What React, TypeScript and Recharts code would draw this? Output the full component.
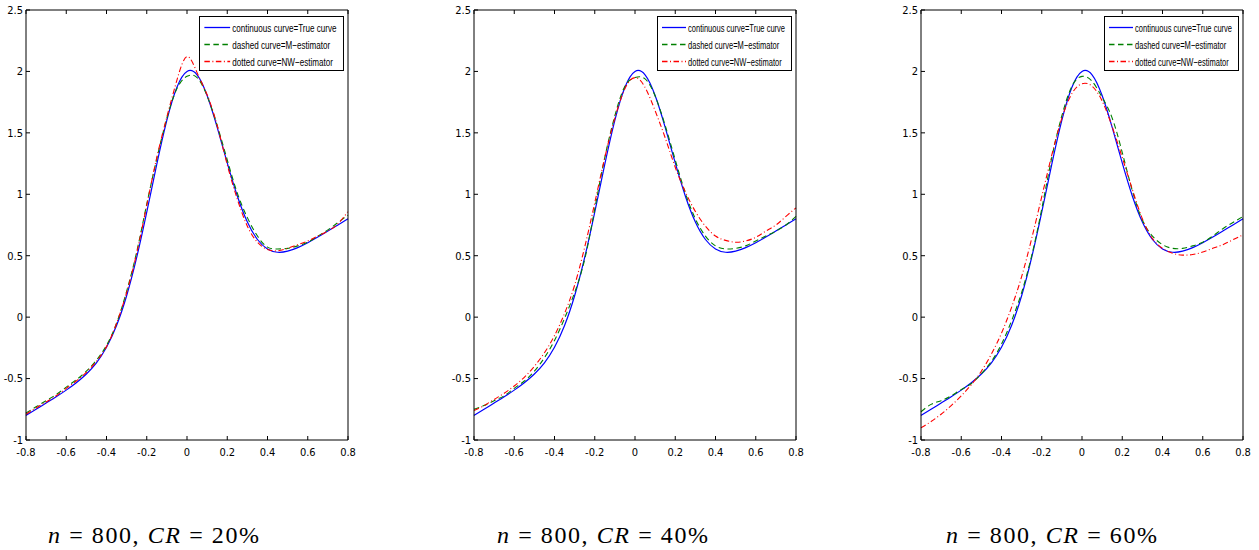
import React from "react";
import { LineChart, Line, XAxis, YAxis, Legend } from "recharts";

const xValues = [
  -0.8, -0.75, -0.7, -0.65, -0.6, -0.55, -0.5, -0.45, -0.4, -0.35, -0.3, -0.25, -0.2, -0.15, -0.1, -0.05,
  0, 0.05, 0.1, 0.15, 0.2, 0.25, 0.3, 0.35, 0.4, 0.45, 0.5, 0.55, 0.6, 0.65, 0.7, 0.75, 0.8,
];

const trueCurve = [
  -0.8, -0.75, -0.699, -0.648, -0.594, -0.534, -0.463, -0.372, -0.245, -0.068, 0.174, 0.486, 0.855, 1.245, 1.604, 1.872,
  2.0, 1.972, 1.804, 1.545, 1.255, 0.986, 0.774, 0.632, 0.555, 0.528, 0.537, 0.566, 0.606, 0.652, 0.701, 0.75, 0.8,
];

const mEst20 = [
  -0.78, -0.73, -0.68, -0.63, -0.57, -0.51, -0.44, -0.35, -0.23, -0.05, 0.21, 0.53, 0.92, 1.29, 1.62, 1.86,
  1.96, 1.95, 1.8, 1.56, 1.28, 1.01, 0.81, 0.66, 0.57, 0.555, 0.56, 0.58, 0.61, 0.66, 0.71, 0.77, 0.83,
];
const nwEst20 = [
  -0.79, -0.74, -0.69, -0.64, -0.58, -0.52, -0.45, -0.36, -0.24, -0.05, 0.2, 0.52, 0.91, 1.3, 1.63, 1.93,
  2.12, 1.99, 1.81, 1.56, 1.24, 0.96, 0.74, 0.61, 0.55, 0.54, 0.56, 0.59, 0.62, 0.66, 0.7, 0.76, 0.86,
];

const mEst40 = [
  -0.75, -0.72, -0.68, -0.64, -0.58, -0.52, -0.44, -0.33, -0.19, -0.01, 0.2, 0.47, 0.88, 1.3, 1.64, 1.88,
  1.95, 1.94, 1.8, 1.56, 1.28, 1.01, 0.8, 0.66, 0.58, 0.555, 0.56, 0.58, 0.62, 0.66, 0.7, 0.75, 0.82,
];
const nwEst40 = [
  -0.76, -0.72, -0.67, -0.62, -0.56, -0.49, -0.4, -0.29, -0.15, 0.03, 0.26, 0.57, 0.93, 1.3, 1.62, 1.86,
  1.95, 1.87, 1.68, 1.46, 1.22, 1.02, 0.86, 0.74, 0.66, 0.625, 0.61, 0.62, 0.65, 0.7, 0.75, 0.82, 0.89,
];

const mEst60 = [
  -0.77, -0.71, -0.68, -0.64, -0.59, -0.54, -0.46, -0.36, -0.22, -0.03, 0.2, 0.5, 0.88, 1.3, 1.64, 1.88,
  1.96, 1.92, 1.79, 1.62, 1.34, 1.03, 0.79, 0.66, 0.59, 0.56, 0.56, 0.58, 0.61, 0.66, 0.72, 0.77, 0.82,
];
const nwEst60 = [
  -0.9, -0.85, -0.79, -0.72, -0.64, -0.55, -0.44, -0.3, -0.13, 0.08, 0.33, 0.64, 0.98, 1.32, 1.62, 1.82,
  1.9, 1.88, 1.76, 1.55, 1.3, 1.04, 0.8, 0.64, 0.56, 0.52, 0.505, 0.51, 0.53, 0.56, 0.59, 0.63, 0.67,
];

const xTicks = [-0.8, -0.6, -0.4, -0.2, 0, 0.2, 0.4, 0.6, 0.8];
const yTicks = [-1, -0.5, 0, 0.5, 1, 1.5, 2, 2.5];
const censoringRates = ["20%", "40%", "60%"];

const seriesNames = {
  truth: "continuous curve=True curve",
  m: "dashed curve=M\u2212estimator",
  nw: "dotted curve=NW\u2212estimator",
};

const panels = [
  { m: mEst20, nw: nwEst20, left: 0, legendScale: 1.074, captionX: 48 },
  { m: mEst40, nw: nwEst40, left: 448, legendScale: 1, captionX: 497 },
  { m: mEst60, nw: nwEst60, left: 895, legendScale: 1, captionX: 946 },
];

const tickFont = "'Liberation Sans Narrow', 'Arial Narrow', 'DejaVu Sans Condensed', sans-serif";
const tickStyle = { fontSize: 11, fill: "#000", fontFamily: tickFont };
const blank = () => "";

function BoxLegend({ payload, scale }: any) {
  const w = 135 * scale;
  const sx = 0.655 * scale;
  return (
    <svg width={w} height={55} style={{ display: "block" }}>
      <rect x={0.5} y={0.5} width={w - 1} height={54} fill="#fff" stroke="#000" strokeWidth={1} />
      {(payload || []).map((entry: any, i: number) => {
        const cy = 11.5 + i * 17;
        return (
          <g key={i}>
            <line
              x1={5 * scale}
              x2={29 * scale}
              y1={cy}
              y2={cy}
              stroke={entry.color}
              strokeWidth={1.3}
              strokeDasharray={entry.payload?.strokeDasharray}
            />
            <text
              transform={`translate(${31 * scale},${cy}) scale(${sx},1)`}
              dy="0.36em"
              fontSize={11.5}
              fontFamily="'Liberation Sans', Arial, sans-serif"
              fill="#000"
            >
              {entry.value}
            </text>
          </g>
        );
      })}
    </svg>
  );
}

function Panel({ m, nw, legendScale }: any) {
  const data = xValues.map((x, i) => ({ x, truth: trueCurve[i], m: m[i], nw: nw[i] }));
  return (
    <LineChart width={360} height={470} data={data} margin={{ top: 9, right: 11, bottom: 0, left: 0 }}>
      <XAxis
        xAxisId="b"
        dataKey="x"
        type="number"
        domain={[-0.8, 0.8]}
        ticks={xTicks}
        height={30}
        tickSize={-4}
        tickMargin={12}
        tick={tickStyle}
        stroke="#000"
        interval={0}
      />
      <XAxis
        xAxisId="t"
        orientation="top"
        dataKey="x"
        type="number"
        domain={[-0.8, 0.8]}
        ticks={xTicks}
        height={1}
        tickSize={-4}
        tickFormatter={blank}
        stroke="#000"
        interval={0}
      />
      <YAxis
        yAxisId="l"
        type="number"
        domain={[-1, 2.5]}
        ticks={yTicks}
        width={26}
        tickSize={-4}
        tickMargin={7}
        tick={tickStyle}
        stroke="#000"
        interval={0}
      />
      <YAxis
        yAxisId="r"
        orientation="right"
        type="number"
        domain={[-1, 2.5]}
        ticks={yTicks}
        width={1}
        tickSize={-4}
        tickFormatter={blank}
        stroke="#000"
        interval={0}
      />
      <Line
        xAxisId="b"
        yAxisId="l"
        type="natural"
        dataKey="truth"
        name={seriesNames.truth}
        stroke="#0000ff"
        strokeWidth={1.2}
        dot={false}
        activeDot={false}
        isAnimationActive={false}
      />
      <Line
        xAxisId="b"
        yAxisId="l"
        type="natural"
        dataKey="m"
        name={seriesNames.m}
        stroke="#008000"
        strokeWidth={1.1}
        strokeDasharray="5.5 3.5"
        dot={false}
        activeDot={false}
        isAnimationActive={false}
      />
      <Line
        xAxisId="b"
        yAxisId="l"
        type="natural"
        dataKey="nw"
        name={seriesNames.nw}
        stroke="#ff0000"
        strokeWidth={1.1}
        strokeDasharray="5.5 2.5 1 2.5"
        dot={false}
        activeDot={false}
        isAnimationActive={false}
      />
      <Legend
        layout="horizontal"
        align="center"
        verticalAlign="middle"
        width={135 * legendScale}
        wrapperStyle={{ left: 344 - 135 * legendScale, top: 16 }}
        content={(props: any) => <BoxLegend payload={props.payload} scale={legendScale} />}
      />
    </LineChart>
  );
}

export default function App() {
  return (
    <div style={{ position: "absolute", left: 0, top: 0, width: 1259, height: 550, background: "#fff" }}>
      {panels.map((p, i) => (
        <div key={i} style={{ position: "absolute", left: p.left, top: 0 }}>
          <Panel m={p.m} nw={p.nw} legendScale={p.legendScale} />
        </div>
      ))}
      <svg width={1259} height={550} style={{ position: "absolute", left: 0, top: 0, pointerEvents: "none" }}>
        {panels.map((p, i) => (
          <text
            key={i}
            x={p.captionX}
            y={543}
            fontSize={24}
            fontFamily="'Liberation Serif', 'DejaVu Serif', serif"
            fill="#000"
            textLength={211}
            lengthAdjust="spacing"
          >
            <tspan fontStyle="italic">n</tspan>
            {" = 800, "}
            <tspan fontStyle="italic">CR</tspan>
            {" = " + censoringRates[i]}
          </text>
        ))}
      </svg>
    </div>
  );
}
